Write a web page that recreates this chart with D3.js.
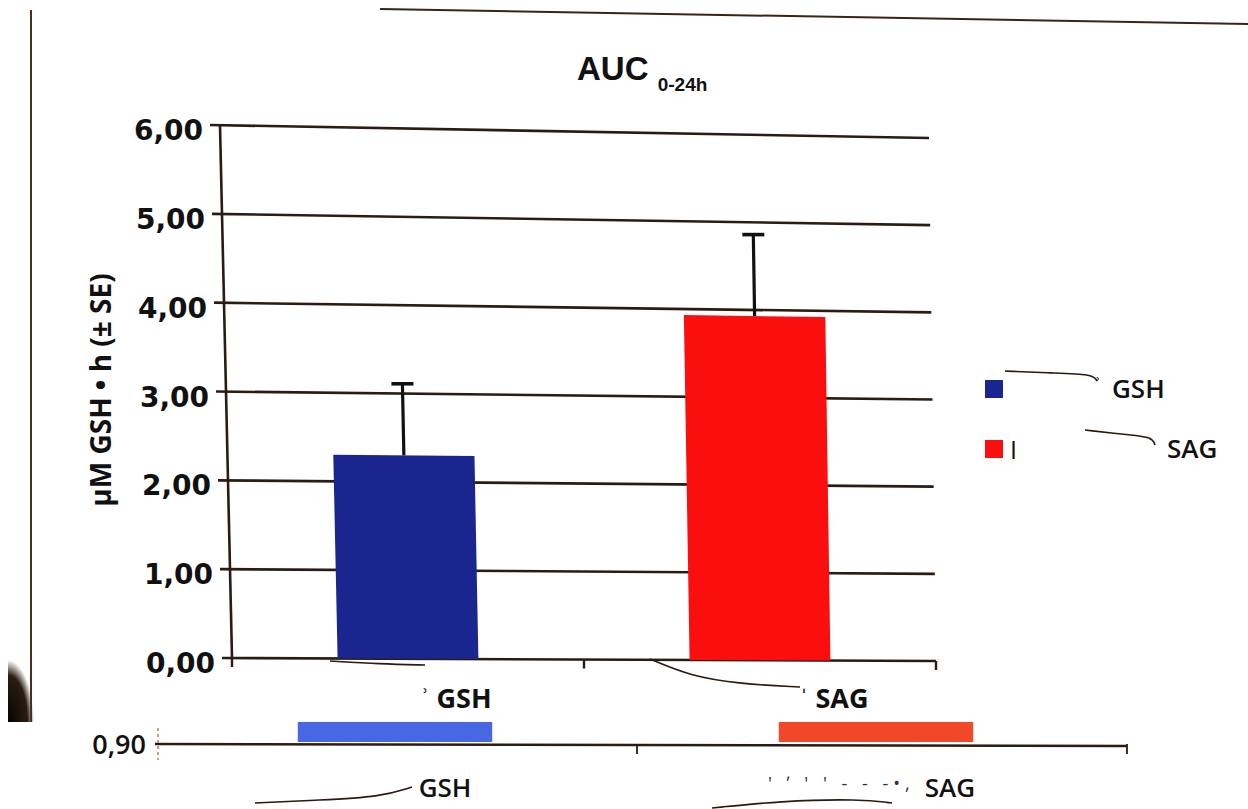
<!DOCTYPE html>
<html>
<head>
<meta charset="utf-8">
<script src="https://cdn.jsdelivr.net/npm/d3@7"></script>
<style>
  html, body { margin: 0; padding: 0; background: #fff; }
  svg { display: block; }
</style>
</head>
<body>
<svg id="chart"></svg>
<script>
// Chart data
const categories = ["GSH", "SAG"];
const meanValues = [2.30, 3.93];
const seValues = [0.81, 0.93];
const yTicks = [0, 1, 2, 3, 4, 5, 6];
const tickLabels = ["0,00", "1,00", "2,00", "3,00", "4,00", "5,00", "6,00"];
const barColors = ["#1b2590", "#fb0e0e"];
const legendLabels = ["GSH", "SAG"];

// Lower (cut off) chart
const lowerValues = [1.20, 1.20];
const lowerTicks = [0.90];
const lowerTickLabels = ["0,90"];
const lowerColors = ["#4768e2", "#f2482a"];

const width = 1248;
const height = 809;
const ink = "#2a1c12";

const svg = d3.select('#chart')
    .attr('width', width)
    .attr('height', height);

// Photo frame remnants
const shade = svg.append('defs').append('radialGradient')
    .attr('id', 'shade').attr('cx', 0).attr('cy', 1).attr('r', 1);
shade.append('stop').attr('offset', '0%').attr('stop-color', '#050302');
shade.append('stop').attr('offset', '75%').attr('stop-color', '#2a1c10');
shade.append('stop').attr('offset', '100%').attr('stop-color', '#fff');
svg.append('rect').attr('x', 8).attr('y', 660).attr('width', 26).attr('height', 62)
    .attr('fill', 'url(#shade)');
svg.append('line').attr('x1', 31).attr('y1', 10).attr('x2', 31).attr('y2', 722)
    .attr('stroke', '#4a3020').attr('stroke-width', 2);
svg.append('line').attr('x1', 380).attr('y1', 9).attr('x2', 1248).attr('y2', 24)
    .attr('stroke', '#3a2414').attr('stroke-width', 2);

// The photographed plot area is slightly keystoned: map unit square to its corners
const BL = [232, 658], BR = [936, 661], TL = [220, 125], TR = [929, 138];
function warp(u, t) {
    const a = (1 - u) * (1 - t), b = u * (1 - t), c = (1 - u) * t, d = u * t;
    return [
        a * BL[0] + b * BR[0] + c * TL[0] + d * TR[0],
        a * BL[1] + b * BR[1] + c * TL[1] + d * TR[1]
    ];
}

const x = d3.scaleBand().domain(categories).range([0, 1])
    .paddingInner(0.6).paddingOuter(0.3);
const y = d3.scaleLinear().domain([0, 6]).range([0, 1]);
const line = d3.line();

const plot = svg.append('g');

// Gridlines (with ticks crossing the axis)
yTicks.forEach((v, i) => {
    const p0 = warp(0, y(v));
    const p1 = warp(1, y(v));
    plot.append('path')
        .attr('d', line([[p0[0] - 10, p0[1]], p1]))
        .attr('stroke', ink).attr('stroke-width', 2.6).attr('fill', 'none');
    plot.append('text')
        .attr('x', p0[0] - 17)
        .attr('y', p0[1] + 15)
        .attr('text-anchor', 'end')
        .style('font-family', 'DejaVu Sans')
        .style('font-weight', 'bold')
        .style('font-size', '28px')
        .attr('fill', '#111')
        .text(tickLabels[i]);
});

// Y axis line
plot.append('path')
    .attr('d', line([warp(0, 0), warp(0, 1)]))
    .attr('stroke', ink).attr('stroke-width', 2.6).attr('fill', 'none');

// X axis ticks
[0, 0.5, 1].forEach(u => {
    const p = warp(u, 0);
    plot.append('path')
        .attr('d', line([p, [p[0], p[1] + 9]]))
        .attr('stroke', ink).attr('stroke-width', 2.4);
});

// Bars
categories.forEach((cat, i) => {
    const u0 = x(cat), u1 = x(cat) + x.bandwidth();
    const t = y(meanValues[i]);
    const pts = [warp(u0, 0), warp(u1, 0), warp(u1, t), warp(u0, t)];
    plot.append('path')
        .attr('d', line(pts) + 'Z')
        .attr('fill', barColors[i]);

    const uc = x(cat) + x.bandwidth() / 2;
    const top = warp(uc, y(meanValues[i] + seValues[i]));
    plot.append('path')
        .attr('d', line([warp(uc, t), top]))
        .attr('stroke', '#111').attr('stroke-width', 3.2);
    plot.append('path')
        .attr('d', line([[top[0] - 11, top[1]], [top[0] + 11, top[1]]]))
        .attr('stroke', '#111').attr('stroke-width', 3.6);
});

// Category labels (prefix text was masked out in the source)
const labelShift = [48, 74];
categories.forEach((cat, i) => {
    const p = warp(x(cat) + x.bandwidth() / 2, 0);
    svg.append('text')
        .attr('x', p[0] + labelShift[i])
        .attr('y', 708)
        .attr('text-anchor', 'middle')
        .style('font-family', 'Open Sans')
        .style('font-weight', 'bold')
        .style('font-size', '27px')
        .attr('fill', '#111')
        .text((i === 0 ? '\u02BE ' : '\u02C8 ') + cat);
});

// Title
const title = svg.append('text')
    .attr('x', 577).attr('y', 80)
    .style('font-family', 'Liberation Sans')
    .style('font-weight', 'bold')
    .attr('fill', '#111');
title.append('tspan').style('font-size', '33px').text('AUC ');
title.append('tspan').style('font-size', '19px').attr('dy', 11).text('0-24h');

// Y axis title
svg.append('text')
    .attr('transform', 'translate(111,390) rotate(-90)')
    .attr('text-anchor', 'middle')
    .style('font-family', 'Open Sans')
    .style('font-weight', 'bold')
    .style('font-size', '28px')
    .attr('fill', '#111')
    .text('\u00B5M GSH \u2022 h (\u00B1 SE)');

// Legend
const legendY = [380, 440];
const legendTextX = [1112, 1167];
legendLabels.forEach((lab, i) => {
    svg.append('rect')
        .attr('x', 985).attr('y', legendY[i])
        .attr('width', 18).attr('height', 18)
        .attr('fill', barColors[i]);
    svg.append('text')
        .attr('x', legendTextX[i]).attr('y', legendY[i] + 18)
        .style('font-family', 'Open Sans')
        .style('font-weight', '600')
        .style('font-size', '26px')
        .attr('fill', '#111')
        .text(lab);
});
svg.append('text').attr('x', 1010).attr('y', 459)
    .style('font-family', 'Open Sans').style('font-size', '25px')
    .attr('fill', '#111').text('I');
svg.append('text').attr('x', 1094).attr('y', 392)
    .style('font-family', 'Open Sans').style('font-weight', 'bold').style('font-size', '22px')
    .attr('fill', '#111').text('\u02BE');

// Masking pen strokes
const strokes = [
    [[330, 661], [380, 664], [425, 665]],
    [[650, 659], [690, 676], [740, 684], [800, 687]],
    [[1005, 371], [1050, 373], [1093, 374], [1097, 381]],
    [[1085, 430], [1130, 435], [1152, 437], [1155, 445]],
    [[255, 803], [320, 800], [380, 797], [412, 787]],
    [[712, 808], [780, 801], [860, 799], [892, 803]]
];
strokes.forEach(s => {
    svg.append('path')
        .attr('d', d3.line().curve(d3.curveBasis)(s))
        .attr('stroke', '#2a1a10').attr('stroke-width', 1.6).attr('fill', 'none');
});

// Lower, cut-off chart
const lower = svg.append('g');
lower.append('clipPath').attr('id', 'cut')
    .append('rect').attr('x', 0).attr('y', 722).attr('width', width).attr('height', 90);

const x2 = d3.scaleBand().domain(categories).range([155, 1127])
    .paddingInner(0.6).paddingOuter(0.3);
const y2 = d3.scaleLinear().domain([0.90, 1.00]).range([744, 700]);
const lowerNudge = [-3, -8];

lower.append('g').attr('clip-path', 'url(#cut)')
    .selectAll('rect').data(categories).join('rect')
    .attr('x', (d, i) => x2(d) + lowerNudge[i])
    .attr('width', x2.bandwidth())
    .attr('y', (d, i) => y2(lowerValues[i]))
    .attr('height', (d, i) => y2(lowerTicks[0]) - y2(lowerValues[i]) - 2)
    .attr('fill', (d, i) => lowerColors[i]);

lower.append('line')
    .attr('x1', 155).attr('x2', 1127)
    .attr('y1', y2(lowerTicks[0])).attr('y2', y2(lowerTicks[0]) + 2)
    .attr('stroke', ink).attr('stroke-width', 2.4);
lower.append('line')
    .attr('x1', 158).attr('x2', 158).attr('y1', 728).attr('y2', 760)
    .attr('stroke', '#b08050').attr('stroke-width', 1.5).attr('stroke-dasharray', '3,3');
[637, 1127].forEach(px => {
    lower.append('line').attr('x1', px).attr('x2', px)
        .attr('y1', y2(lowerTicks[0])).attr('y2', y2(lowerTicks[0]) + 10)
        .attr('stroke', ink).attr('stroke-width', 1.8);
});
lower.append('text')
    .attr('x', 146).attr('y', y2(lowerTicks[0]) + 10)
    .attr('text-anchor', 'end')
    .style('font-family', 'Open Sans')
    .style('font-weight', '600')
    .style('font-size', '27px')
    .attr('fill', '#111')
    .text(lowerTickLabels[0]);

const lowerShift = [47, 66];
categories.forEach((cat, i) => {
    lower.append('text')
        .attr('x', x2(cat) + x2.bandwidth() / 2 + lowerShift[i])
        .attr('y', 797)
        .attr('text-anchor', 'middle')
        .style('font-family', 'Open Sans')
        .style('font-weight', '600')
        .style('font-size', '26px')
        .attr('fill', '#111')
        .text(cat);
});
lower.append('text')
    .attr('x', 768).attr('y', 790)
    .style('font-family', 'Open Sans').style('font-size', '18px')
    .style('letter-spacing', '5px')
    .attr('fill', '#333')
    .text("'    \u02BC ' ' - - -\u2022,");
</script>
</body>
</html>
